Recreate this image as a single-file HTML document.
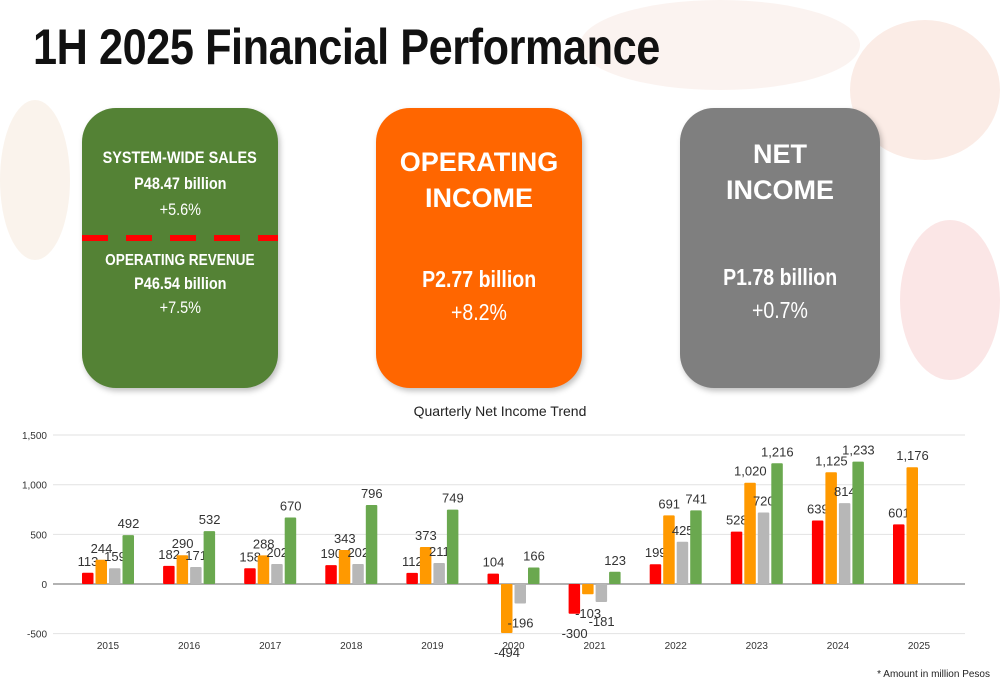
<!DOCTYPE html>
<html><head><meta charset="utf-8"><style>
body{margin:0;width:1000px;height:685px;overflow:hidden;background:#fff;font-family:"Liberation Sans",sans-serif;position:relative}
.bg{position:absolute;border-radius:50%;opacity:.12}
.title{position:absolute;left:33px;top:18px;font-size:50px;font-weight:bold;color:#111;transform:scaleX(.865);transform-origin:left top;white-space:nowrap;letter-spacing:-0.5px}
.card{position:absolute;top:108px;height:280px;border-radius:34px;color:#fff;text-align:center;box-shadow:2px 3px 6px rgba(0,0,0,.25)}
.narrow{display:inline-block;transform:scaleX(.85)}
</style></head><body>
<div class="bg" style="left:850px;top:20px;width:150px;height:140px;background:#e06030"></div>
<div class="bg" style="left:900px;top:220px;width:100px;height:160px;background:#d33"></div>
<div class="bg" style="left:0;top:100px;width:70px;height:160px;background:#d8a060"></div>
<div class="bg" style="left:580px;top:0;width:280px;height:90px;background:#e0a080"></div>
<div class="title">1H 2025 Financial Performance</div>

<div class="card" style="left:82px;width:196px;background:#548235">
 <div style="margin-top:40px;font-weight:bold;font-size:17px"><span class="narrow">SYSTEM-WIDE SALES</span></div>
 <div style="margin-top:6px;font-weight:bold;font-size:17px"><span class="narrow">P48.47 billion</span></div>
 <div style="margin-top:6px;font-size:17px"><span class="narrow">+5.6%</span></div>
 <div style="position:absolute;left:0;right:0;top:127px;height:6px;background:repeating-linear-gradient(90deg,#f00 0 26px,transparent 26px 44px)"></div>
 <div style="margin-top:32px;font-weight:bold;font-size:16px"><span class="narrow">OPERATING REVENUE</span></div>
 <div style="margin-top:4px;font-weight:bold;font-size:17px"><span class="narrow">P46.54 billion</span></div>
 <div style="margin-top:4px;font-size:17px"><span class="narrow">+7.5%</span></div>
</div>
<div class="card" style="left:376px;width:206px;background:#ff6600">
 <div style="margin-top:36px;font-weight:bold;font-size:27px;line-height:36px">OPERATING<br>INCOME</div>
 <div style="margin-top:50px;font-weight:bold;font-size:23px"><span class="narrow">P2.77 billion</span></div>
 <div style="margin-top:6px;font-size:23px"><span class="narrow">+8.2%</span></div>
</div>
<div class="card" style="left:680px;width:200px;background:#7f7f7f">
 <div style="margin-top:28px;font-weight:bold;font-size:27px;line-height:36px">NET<br>INCOME</div>
 <div style="margin-top:56px;font-weight:bold;font-size:23px"><span class="narrow">P1.78 billion</span></div>
 <div style="margin-top:6px;font-size:23px"><span class="narrow">+0.7%</span></div>
</div>

<svg id="chart" width="1000" height="685" style="position:absolute;left:0;top:0">
<text x="500" y="416" text-anchor="middle" font-size="14" fill="#222">Quarterly Net Income Trend</text>
</svg>
<div style="position:absolute;right:10px;top:669px;font-size:10px;color:#222">* Amount in million Pesos</div>
<script>
const years=["2015","2016","2017","2018","2019","2020","2021","2022","2023","2024","2025"];
const q1=[113,182,158,190,112,104,-300,199,528,639,601];
const q2=[244,290,288,343,373,-494,-103,691,1020,1125,1176];
const q3=[159,171,202,202,211,-196,-181,425,720,814,null];
const q4=[492,532,670,796,749,166,123,741,1216,1233,null];
const yTicks=[1500,1000,500,0,-500];
const tickLabels=["1,500","1,000","500","0","-500"];
const colors=["#ff0000","#ff9900","#b7b7b7","#6aa84f"];
const svg=document.getElementById('chart');
const NS="http://www.w3.org/2000/svg";
const y=v=>584-v*0.0993;
const x=i=>108+i*81.1;
function mk(t,a){const e=document.createElementNS(NS,t);for(const k in a)e.setAttribute(k,a[k]);svg.appendChild(e);return e;}
yTicks.forEach((t,i)=>{
 const l=mk('line',{x1:53,x2:965,y1:y(t),y2:y(t),stroke:t===0?'#999':'#e2e2e2','stroke-width':t===0?1.5:1});
 
 
 const tx=mk('text',{x:47,y:y(t)+4,'text-anchor':'end','font-size':10,fill:'#333'});
 tx.textContent=tickLabels[i];
 
 
});
years.forEach((yr,i)=>{
 const t=mk('text',{x:x(i),y:649,'text-anchor':'middle','font-size':10,fill:'#333'});
 t.textContent=yr;
 
 
});
[q1,q2,q3,q4].forEach((s,si)=>{
 s.forEach((v,i)=>{
  if(v===null)return;
  const bx=x(i)-26+si*13.5;
  const top=Math.min(y(v),y(0)),h=Math.abs(y(v)-y(0));
  const r=mk('rect',{x:bx,y:top,width:11.5,height:h,fill:colors[si],rx:1});
  
  
  const ly=v>=0?y(v)-7:y(v)+24;
  const t=mk('text',{x:bx+6,y:ly,'text-anchor':'middle','font-size':13,fill:'#333'});
  t.textContent=v.toLocaleString('en-US');
  
  
 });
});
</script>
</body></html>
